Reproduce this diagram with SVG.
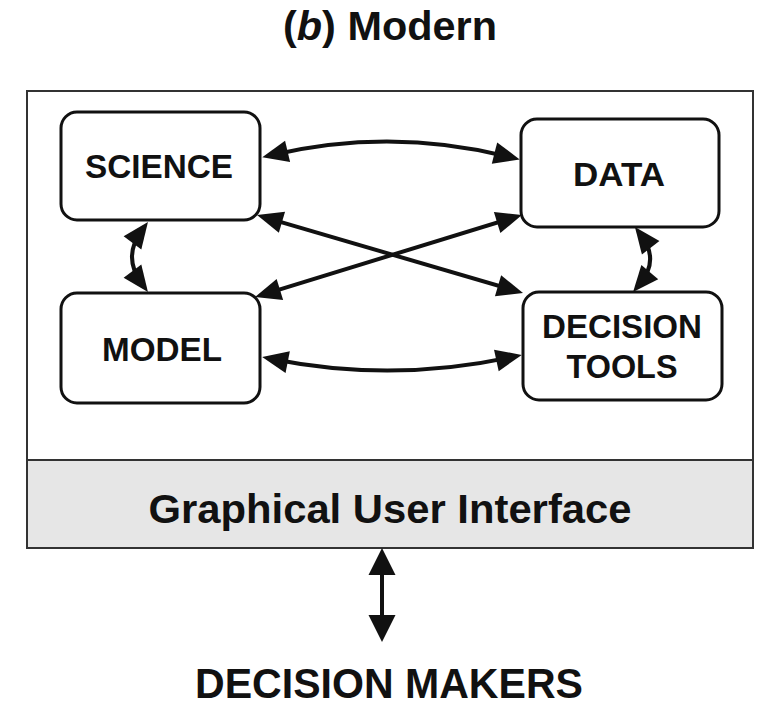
<svg xmlns="http://www.w3.org/2000/svg" width="776" height="716" viewBox="0 0 776 716">
<style>
text{font-family:"Liberation Sans",Arial,sans-serif;font-weight:bold;fill:#111;text-anchor:middle}
.node rect{fill:#fff;stroke:#111;stroke-width:3}
.lbl{font-size:34px}
.conn path{fill:none;stroke:#111;stroke-width:4}
</style>
<defs>
<marker id="ah" markerUnits="userSpaceOnUse" markerWidth="26" markerHeight="22" refX="16" refY="11" orient="auto-start-reverse" overflow="visible">
<path d="M0,0 L26,11 L0,22 z" fill="#111"/>
</marker>
<marker id="ahb" markerUnits="userSpaceOnUse" markerWidth="27" markerHeight="27" refX="17" refY="13.5" orient="auto-start-reverse" overflow="visible">
<path d="M0,0 L27,13.5 L0,27 z" fill="#111"/>
</marker>
</defs>
<rect width="776" height="716" fill="#fff"/>
<text x="390" y="40" font-size="40" textLength="214" lengthAdjust="spacingAndGlyphs">(<tspan font-style="italic">b</tspan>) Modern</text>
<g id="frame">
<rect x="27" y="91" width="726" height="457" fill="#fff" stroke="#333" stroke-width="2"/>
</g>
<g id="gui">
<rect x="27" y="460" width="726" height="88" fill="#e6e6e6" stroke="#333" stroke-width="2"/>
<text x="390" y="523" font-size="40" textLength="483" lengthAdjust="spacingAndGlyphs">Graphical User Interface</text>
</g>
<g id="science" class="node">
<rect x="61" y="112" width="199" height="108" rx="16"/>
<text class="lbl" x="159" y="178" textLength="148" lengthAdjust="spacingAndGlyphs">SCIENCE</text>
</g>
<g id="data" class="node">
<rect x="521" y="119" width="198" height="108" rx="16"/>
<text class="lbl" x="619" y="186" textLength="92" lengthAdjust="spacingAndGlyphs">DATA</text>
</g>
<g id="model" class="node">
<rect x="61" y="293" width="199" height="110" rx="16"/>
<text class="lbl" x="162" y="361" textLength="120" lengthAdjust="spacingAndGlyphs">MODEL</text>
</g>
<g id="tools" class="node">
<rect x="523" y="292" width="199" height="108" rx="16"/>
<text class="lbl" x="622" y="338" textLength="160" lengthAdjust="spacingAndGlyphs">DECISION</text>
<text class="lbl" x="622" y="378" textLength="111" lengthAdjust="spacingAndGlyphs">TOOLS</text>
</g>
<g id="makers">
<text x="389" y="698" font-size="43" textLength="388" lengthAdjust="spacingAndGlyphs">DECISION MAKERS</text>
</g>
<g id="connectors" class="conn">
<path d="M272,155 Q391,127 510,157" marker-start="url(#ah)" marker-end="url(#ah)"/>
<path d="M272,359 Q392,383 512,357" marker-start="url(#ah)" marker-end="url(#ah)"/>
<path d="M266.6,217.8 L513.4,290.2" marker-start="url(#ah)" marker-end="url(#ah)"/>
<path d="M264.6,294.1 L512.4,217.9" marker-start="url(#ah)" marker-end="url(#ah)"/>
<path d="M142,230 Q122,257 142,284" marker-start="url(#ah)" marker-end="url(#ah)"/>
<path d="M641,235 Q660,260 639.5,284.4" marker-start="url(#ah)" marker-end="url(#ah)"/>
<path d="M382,558 L382,632" stroke-width="5" marker-start="url(#ahb)" marker-end="url(#ahb)"/>
</g>
</svg>
